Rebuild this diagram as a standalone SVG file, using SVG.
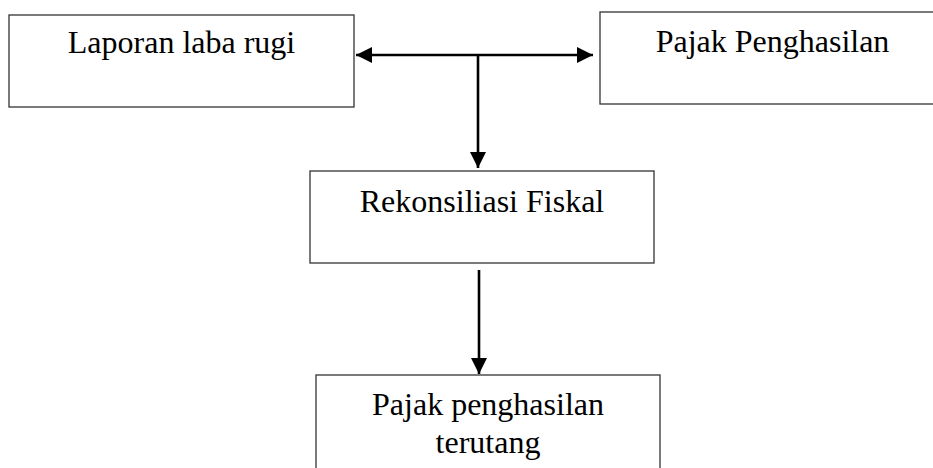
<svg xmlns="http://www.w3.org/2000/svg" width="933" height="468" viewBox="0 0 933 468">
<style>
.box{fill:#fff;stroke:#333;stroke-width:1.3}
.lbl{font-family:"Liberation Serif","Times New Roman",serif;font-size:32px;fill:#000;text-anchor:middle}
.con{stroke:#000;stroke-width:2.6;fill:none}
</style>
<defs>
<marker id="ah" viewBox="0 0 16 16" refX="16" refY="8" markerWidth="16" markerHeight="16" markerUnits="userSpaceOnUse" orient="auto-start-reverse">
<path d="M0,0 L16,8 L0,16 z" fill="#000"/>
</marker>
</defs>
<rect width="933" height="468" fill="#fff"/>
<g id="node-laporan">
<rect class="box" x="9" y="15" width="345" height="92"/>
<text class="lbl" x="181.5" y="53">Laporan laba rugi</text>
</g>
<g id="node-pajak">
<rect class="box" x="600" y="12" width="345" height="92"/>
<text class="lbl" x="772.5" y="51.5">Pajak Penghasilan</text>
</g>
<g id="node-rekonsiliasi">
<rect class="box" x="310" y="171" width="344" height="92"/>
<text class="lbl" x="482" y="212">Rekonsiliasi Fiskal</text>
</g>
<g id="node-terutang">
<rect class="box" x="316" y="375" width="344" height="110"/>
<text class="lbl" x="488" y="415">Pajak penghasilan</text>
<text class="lbl" x="488" y="453">terutang</text>
</g>
<g id="connectors">
<line class="con" x1="356" y1="55" x2="593" y2="55" marker-start="url(#ah)" marker-end="url(#ah)"/>
<line class="con" x1="478" y1="55" x2="478" y2="168" marker-end="url(#ah)"/>
<line class="con" x1="479" y1="270" x2="479" y2="374" marker-end="url(#ah)"/>
</g>
</svg>
